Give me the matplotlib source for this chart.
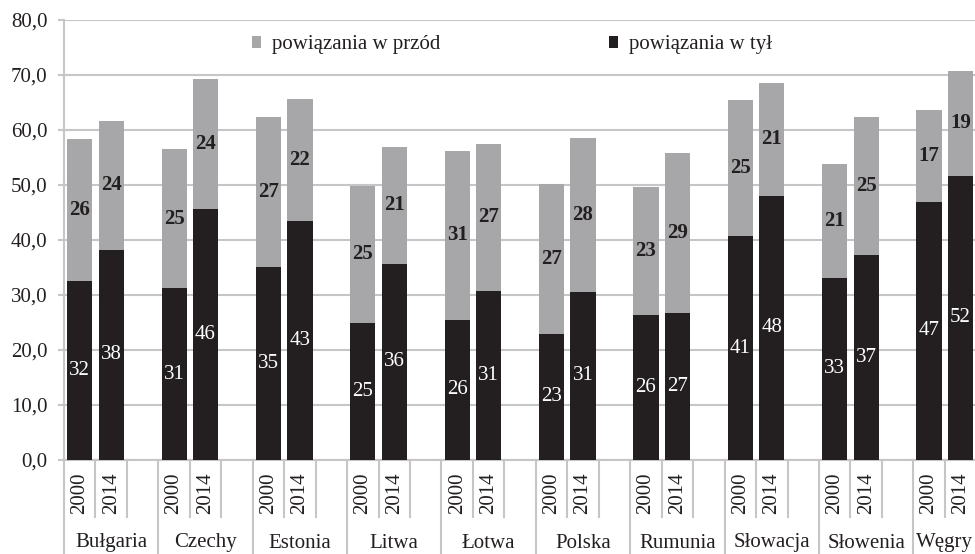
import matplotlib
matplotlib.use("Agg")
import matplotlib.pyplot as plt
from matplotlib.ticker import FuncFormatter, MultipleLocator
import numpy as np

plt.rcParams['font.family'] = ['Liberation Serif', 'DejaVu Serif']

countries = ["Bułgaria", "Czechy", "Estonia", "Litwa", "Łotwa",
             "Polska", "Rumunia", "Słowacja", "Słowenia", "Węgry"]
years = ["2000", "2014"]
# powiązania w tył (backward linkages), per country: [2000, 2014]
backward = [[32.5, 38.2], [31.2, 45.7], [35.1, 43.4], [25.0, 35.7], [25.5, 30.8],
            [23.0, 30.6], [26.3, 26.7], [40.7, 48.0], [33.1, 37.2], [47.0, 51.7]]
# powiązania w przód (forward linkages), per country: [2000, 2014]
forward = [[25.8, 23.5], [25.3, 23.5], [27.2, 22.2], [24.9, 21.3], [30.7, 26.6],
           [27.2, 27.9], [23.3, 29.1], [24.8, 20.6], [20.7, 25.2], [16.6, 19.0]]

BLACK = "#231f20"
GRAY = "#a7a7a9"
GRID = "#c6c6c6"
FS = 15

W, H = 975, 554
fig = plt.figure(figsize=(W / 100, H / 100), dpi=100)
ax_left, ax_right = 64 / W, 1.0
ax_bottom, ax_top = (H - 460) / H, (H - 20) / H
ax = fig.add_axes([ax_left, ax_bottom, ax_right - ax_left, ax_top - ax_bottom])

slots_per_group = 3
x_pos, back_vals, fwd_vals = [], [], []
for gi in range(len(countries)):
    for yi, yr in enumerate(years):
        x_pos.append(gi * slots_per_group + yi)
        back_vals.append(backward[gi][yi])
        fwd_vals.append(forward[gi][yi])
x_pos = np.array(x_pos)
back_vals = np.array(back_vals)
fwd_vals = np.array(fwd_vals)

bw = 0.8
b1 = ax.bar(x_pos, back_vals, width=bw, color=BLACK, zorder=3, label="powiązania w tył")
b2 = ax.bar(x_pos, fwd_vals, width=bw, bottom=back_vals, color=GRAY, zorder=3,
            label="powiązania w przód")

ax.bar_label(b1, labels=[f"{v:.0f}" for v in back_vals], label_type='center',
             color="white", fontsize=FS, zorder=4)
ax.bar_label(b2, labels=[f"{v:.0f}" for v in fwd_vals], label_type='center',
             color=BLACK, fontsize=FS, fontweight='bold', zorder=4)

xmax = 28.46
ax.set_xlim(-0.5, xmax)
ax.set_ylim(0, 80)
ax.yaxis.set_major_locator(MultipleLocator(10))
ax.yaxis.set_major_formatter(FuncFormatter(lambda v, p: f"{v:.1f}".replace(".", ",")))
ax.grid(axis='y', color=GRID, linewidth=1.5, zorder=0)
ax.set_axisbelow(True)

for s in ['top', 'right']:
    ax.spines[s].set_visible(False)
for s in ['left', 'bottom']:
    ax.spines[s].set_color(GRID)
    ax.spines[s].set_linewidth(1.5)

ax.tick_params(axis='y', colors=GRID, labelcolor=BLACK, labelsize=FS, length=4,
               width=1.5, pad=8)
ax.set_xticks(x_pos)
ax.set_xticklabels([years[i % 2] for i in range(len(x_pos))], rotation=90,
                   fontsize=FS, color=BLACK)
ax.tick_params(axis='x', length=0, pad=9)

axis_h = 440.0
trans = ax.get_xaxis_transform()
for gi in range(len(countries)):
    start = gi * slots_per_group - 0.5
    # group separator (long)
    ax.plot([start, start], [0, -94 / axis_h], transform=trans, color=GRID,
            lw=1.5, clip_on=False)
    # year separators (short)
    for k in (1, 2):
        xs = start + k
        ax.plot([xs, xs], [0, -57 / axis_h], transform=trans, color=GRID,
                lw=1.5, clip_on=False)
    end = min(start + slots_per_group, xmax)
    ax.text((start + end) / 2, -83 / axis_h, countries[gi], transform=trans,
            ha='center', va='center', fontsize=FS, color=BLACK)

handles = [b2, b1]
fig.legend(handles, [h.get_label() for h in handles], loc='center left',
           bbox_to_anchor=(252 / W, 1 - 45 / H), ncol=2, frameon=False,
           fontsize=FS, handlelength=0.45, handleheight=0.45, handletextpad=0.5,
           columnspacing=8.1, borderpad=0, borderaxespad=0, labelcolor=BLACK)

fig.savefig("out.png", dpi=100)
